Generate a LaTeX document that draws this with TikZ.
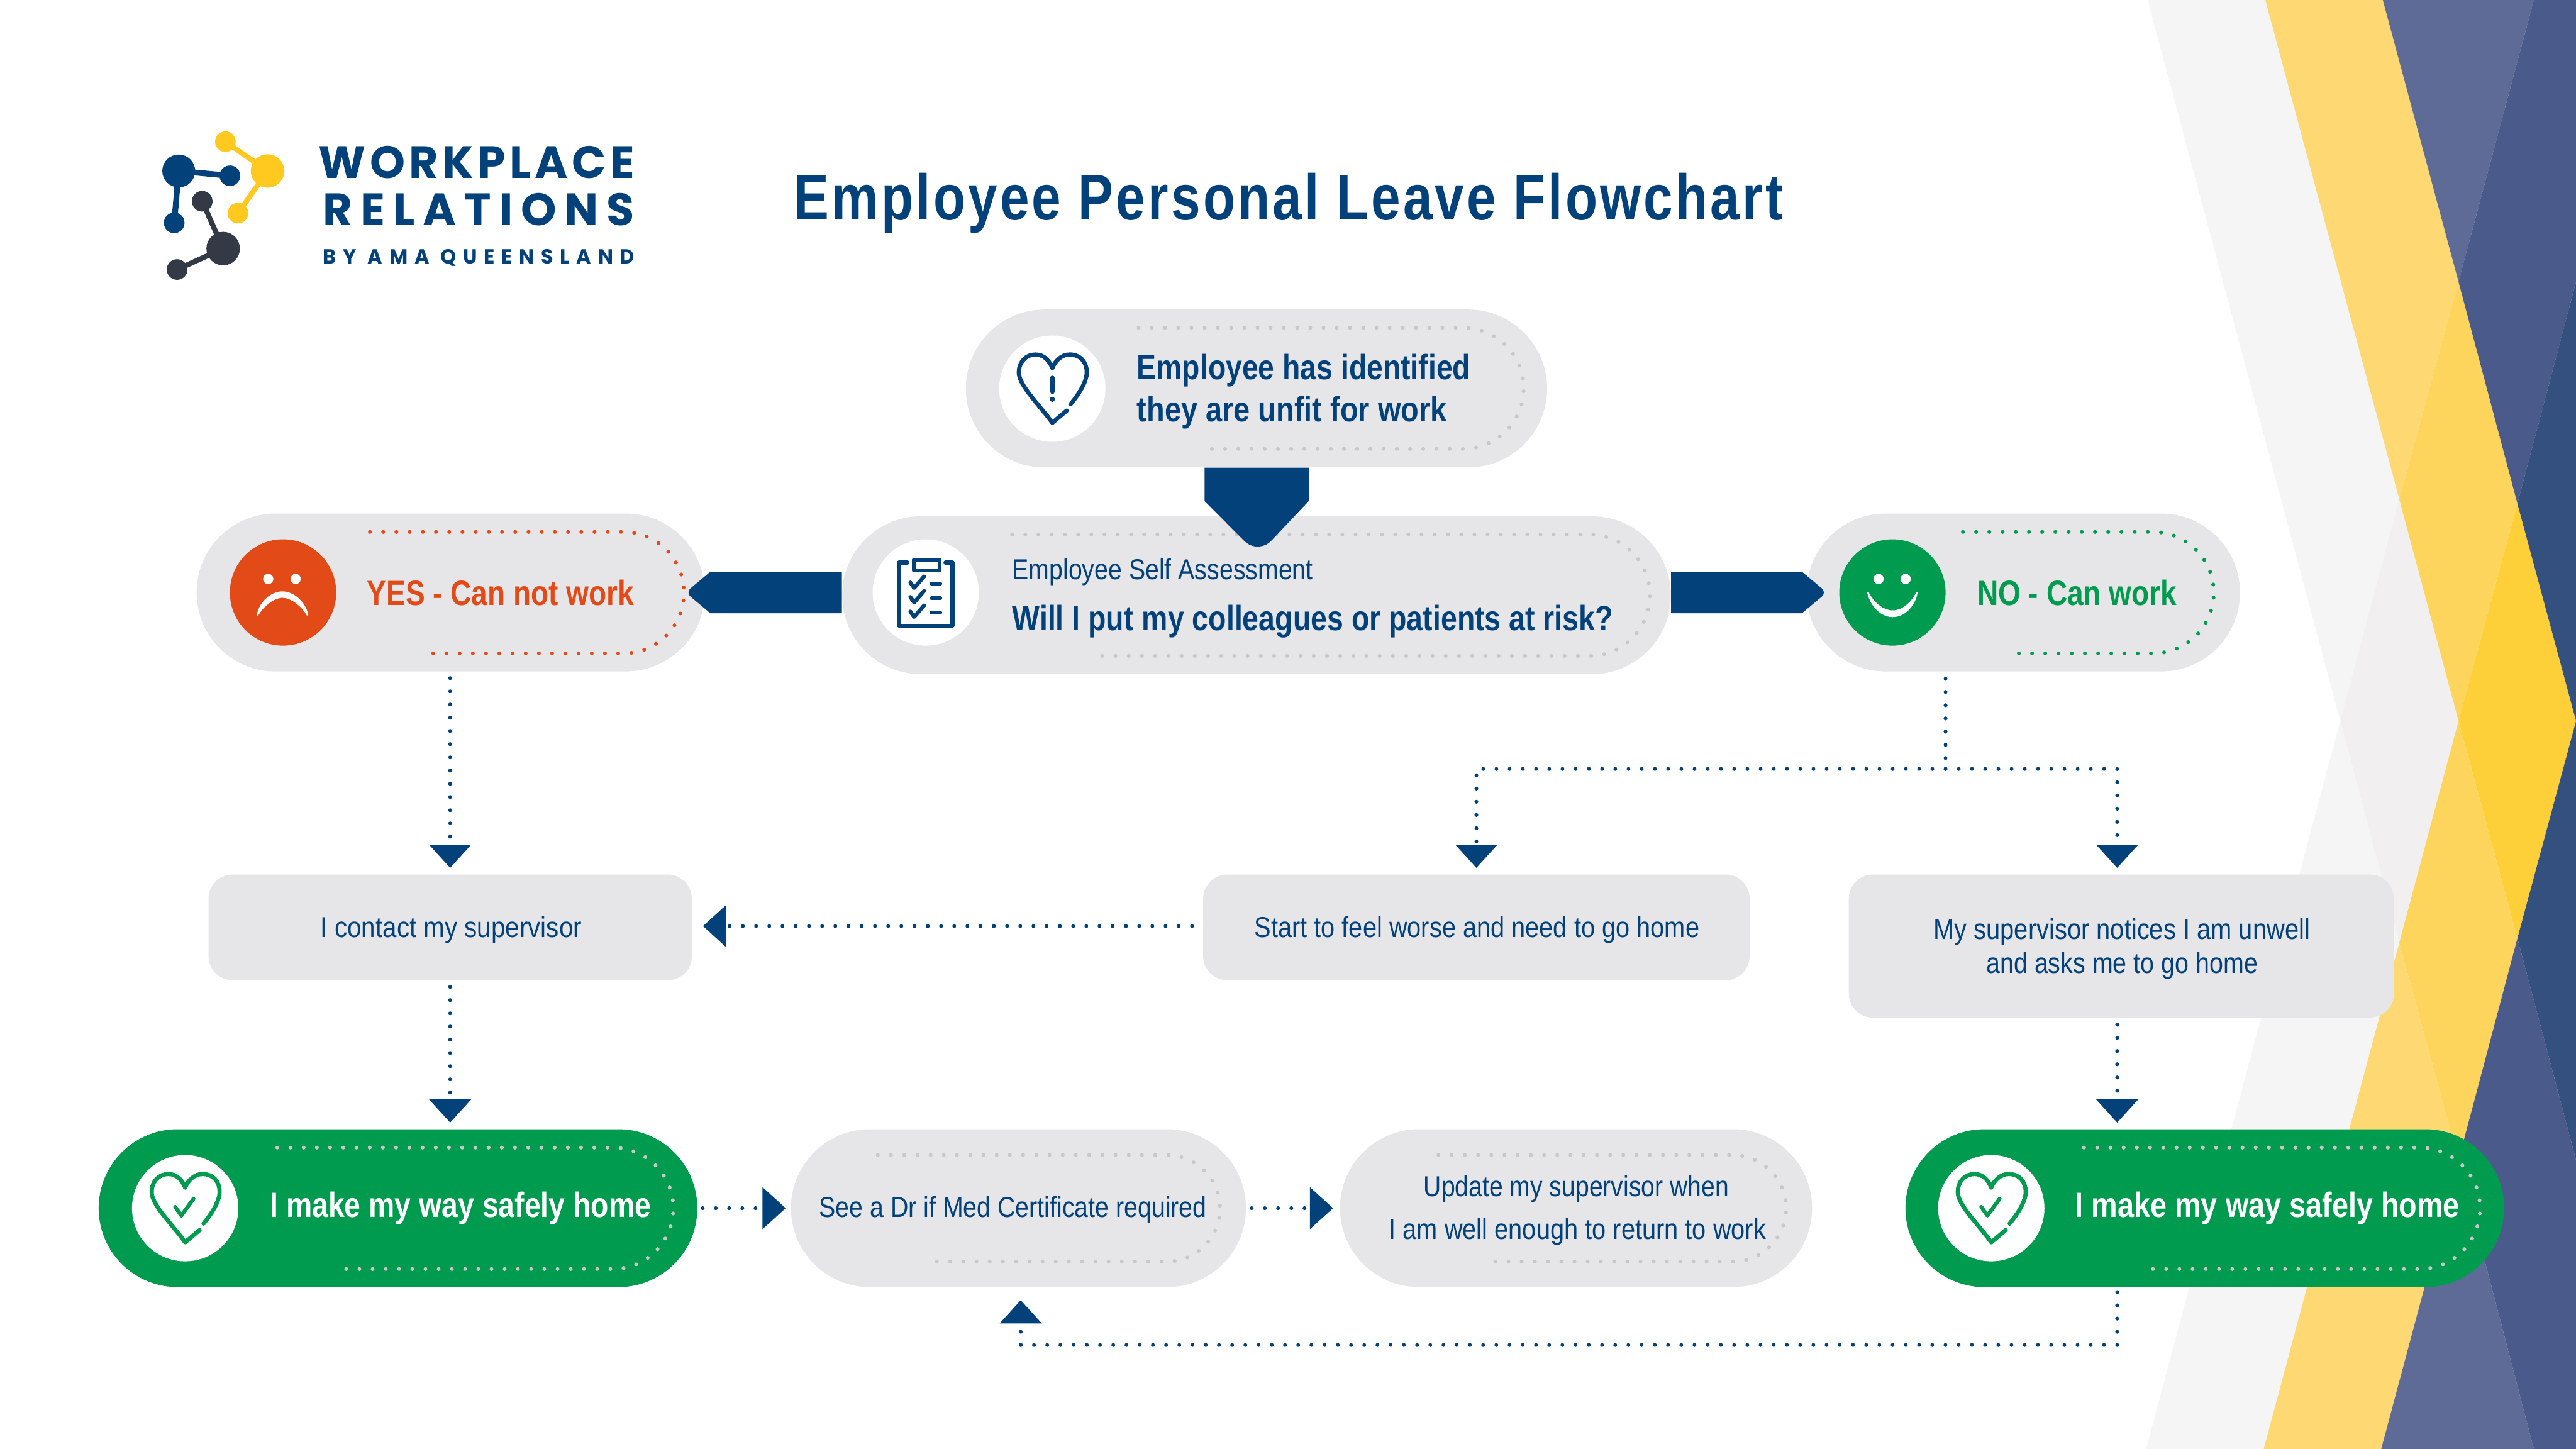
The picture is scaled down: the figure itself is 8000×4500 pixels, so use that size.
\documentclass[tikz,border=0pt]{standalone}
\usepackage{graphicx}
\usepackage{fontspec}
\usetikzlibrary{arrows.meta,calc}
\newfontfamily\rcf{Liberation Sans}
\newfontfamily\logof{Poppins}
\newdimen\pxu \pxu=0.01cm
\newcommand\fitw[2]{\resizebox{#1\pxu}{\height}{#2}}
\definecolor{navy}{HTML}{03417B}
\definecolor{boxgrey}{HTML}{E6E6E8}
\definecolor{dotgrey}{HTML}{C8C8CA}
\definecolor{okgreen}{HTML}{009B4E}
\definecolor{alert}{HTML}{E24A18}
\definecolor{logoyel}{HTML}{FFC91F}
\definecolor{logodark}{HTML}{333A45}
\definecolor{chA}{HTML}{F5F5F5}
\definecolor{chB}{HTML}{F1EFEF}
\definecolor{yeA}{HTML}{FDD873}
\definecolor{yeB}{HTML}{FDD55C}
\definecolor{yeC}{HTML}{FDD03A}
\definecolor{blA}{HTML}{5D6B96}
\definecolor{blB}{HTML}{4A5B8B}
\definecolor{blC}{HTML}{33507F}
\pgfdeclarelayer{chev}\pgfdeclarelayer{low}\pgfdeclarelayer{mid}\pgfdeclarelayer{front}
\pgfsetlayers{chev,low,mid,main,front}
\tikzset{
  pill/.style={rectangle,fill=boxgrey,inner sep=0,rounded corners=2.45cm,minimum height=4.9cm},
  softbox/.style={rectangle,fill=boxgrey,inner sep=0,rounded corners=.75cm},
  disc/.style={circle,fill=white,inner sep=0,minimum size=3.3cm},
  lbl/.style={inner sep=0,anchor=base west},
  boldtxt/.style={lbl,text=navy,font=\rcf\bfseries\fontsize{31}{31}\selectfont},
  plaintxt/.style={lbl,text=navy,font=\rcf\fontsize{25.5}{25.5}\selectfont},
  dotline/.style={line width=.12cm,line cap=round,dash pattern=on 0pt off .41cm},
  conn/.style={dotline,navy,-{Triangle[length=.72cm,width=1.28cm]}},
  connplain/.style={dotline,navy},
}
\newcommand\heartline[3]{%
  \begin{scope}[shift={(#1,#2)},draw=#3,line cap=round,line join=round,line width=.13cm]
    \draw (45,68) -- (0,106) .. controls (-40,50) and (-104,-10) .. (-104,-50)
      .. controls (-104,-85) and (-80,-106) .. (-52,-106)
      .. controls (-25,-106) and (-8,-85) .. (0,-64)
      .. controls (8,-85) and (28,-106) .. (54,-106)
      .. controls (85,-106) and (107,-85) .. (107,-50)
      .. controls (107,-20) and (80,20) .. (57,48);
  \end{scope}}
\newcommand\tickmark[2]{%
  \draw[okgreen,line width=.12cm,line cap=round,line join=round,shift={(#1,#2)}] (-31,-4) -- (-12,23) -- (26,-29);}
\begin{document}
\begin{tikzpicture}[x=0.01cm,y=-0.01cm]
\useasboundingbox (0,0) rectangle (8000,4500);
\begin{pgfonlayer}{chev}
\fill[white] (0,0) rectangle (8000,4500);
\fill[chA] (6670,0)--(7035,0)--(7451,1550)--(7268,2239)--cycle;
\fill[chB] (7268,2239)--(7451,1550)--(7635,2239)--(7451,2928)--cycle;
\fill[chA] (7268,2239)--(7451,2928)--(7030,4500)--(6665,4500)--cycle;
\fill[yeA] (7035,0)--(7400,0)--(7635,875)--(7451,1550)--cycle;
\fill[yeB] (7451,1550)--(7635,875)--(7818,1564)--(7635,2239)--cycle;
\fill[yeC] (7635,2239)--(7818,1564)--(8000,2239)--(7818,2914)--cycle;
\fill[yeB] (7451,2928)--(7635,2239)--(7818,2914)--(7635,3603)--cycle;
\fill[yeA] (7451,2928)--(7635,3603)--(7395,4500)--(7030,4500)--cycle;
\fill[blA] (7400,0)--(7869,0)--(7635,875)--cycle;
\fill[blB] (7869,0)--(8000,0)--(8000,875)--(7818,1564)--(7635,875)--cycle;
\fill[blC] (8000,875)--(8000,2239)--(7818,1564)--cycle;
\fill[blC] (8000,2239)--(8000,3603)--(7818,2914)--cycle;
\fill[blB] (7818,2914)--(8000,3603)--(8000,4500)--(7869,4500)--(7635,3603)--cycle;
\fill[blA] (7395,4500)--(7869,4500)--(7635,3603)--cycle;
\end{pgfonlayer}

% logo
\draw[navy,line width=.18cm] (555,531) -- (714,546) (555,531) -- (541,692);
\fill[navy] (555,531) circle[radius=51] (714,546) circle[radius=32] (541,692) circle[radius=32];
\draw[logoyel,line width=.16cm] (700,440) -- (831,531) -- (739,662);
\fill[logoyel] (700,440) circle[radius=32] (831,531) circle[radius=52] (739,662) circle[radius=32];
\draw[logodark,line width=.16cm] (628,625) -- (693,772) -- (550,837);
\fill[logodark] (628,625) circle[radius=32] (693,772) circle[radius=52] (550,837) circle[radius=32];
\node[lbl,text=navy] (logoA) at (989,554) {\fitw{981}{\logof\bfseries\fontsize{40}{40}\selectfont\addfontfeature{LetterSpace=9}WORKPLACE}};
\node[lbl,text=navy] (logoB) at (1003,700) {\fitw{967}{\logof\bfseries\fontsize{40}{40}\selectfont\addfontfeature{LetterSpace=18}RELATIONS}};
\node[lbl,text=navy] (logoC) at (1003,820) {\fitw{967}{\logof\bfseries\fontsize{18}{18}\selectfont\addfontfeature{LetterSpace=34}BY AMA QUEENSLAND}};

% title
\node[lbl,text=navy,font=\rcf\bfseries\fontsize{57}{57}\selectfont] (title) at (2466,683) {\fitw{3071}{\addfontfeature{LetterSpace=5}Employee Personal Leave Flowchart}};

% boxes
\begin{pgfonlayer}{low}
\node[pill,minimum width=15.77cm] (yes) at (1399.5,1840) {};
\node[pill,minimum width=13.45cm] (no) at (6283.5,1840) {};
\end{pgfonlayer}
\node[pill,minimum width=18.04cm] (top) at (3902,1206.5) {};
\node[pill,minimum width=25.72cm] (assess) at (3902,1848.5) {};
\node[softbox,minimum width=15cm,minimum height=3.28cm] (contact) at (1398,2880) {};
\node[softbox,minimum width=16.96cm,minimum height=3.28cm] (start) at (4585,2880) {};
\node[softbox,minimum width=16.92cm,minimum height=4.44cm] (super) at (6588,2938) {};
\node[pill,minimum width=18.58cm,fill=okgreen] (homeL) at (1236,3752) {};
\node[pill,minimum width=14.12cm] (see) at (3163,3752) {};
\node[pill,minimum width=14.65cm] (update) at (4894.5,3752) {};
\node[pill,minimum width=18.58cm,fill=okgreen] (homeR) at (6847,3752) {};

% inner dotted outlines
\draw[dotline,dotgrey,rounded corners=1.88cm] (3536,1018) -- (4732,1018) -- (4732,1394) -- (3741,1394);
\draw[dotline,dotgrey,rounded corners=1.88cm] (3143,1660) -- (5124,1660) -- (5124,2037) -- (3402,2037);
\draw[dotline,alert,rounded corners=1.88cm] (1149,1652) -- (2124,1652) -- (2124,2029) -- (1345,2029);
\draw[dotline,okgreen,rounded corners=1.88cm] (6096,1652) -- (6875,1652) -- (6875,2029) -- (6230,2029);
\draw[dotline,dotgrey,rounded corners=1.88cm] (861,3564) -- (2091,3564) -- (2091,3941) -- (1059,3941);
\draw[dotline,dotgrey,rounded corners=1.88cm] (6472,3564) -- (7702,3564) -- (7702,3941) -- (6670,3941);
\draw[dotline,dotgrey,rounded corners=1.66cm] (2726,3587) -- (3789,3587) -- (3789,3918) -- (2900,3918);
\draw[dotline,dotgrey,rounded corners=1.66cm] (4467,3587) -- (5547,3587) -- (5547,3918) -- (4639,3918);

% discs
\node[disc] (d1) at (3268,1207) {};
\node[disc] (d2) at (2875,1840) {};
\node[disc,fill=alert] (d3) at (879,1840) {};
\node[disc,fill=okgreen] (d4) at (5877,1840) {};
\node[disc] (d5) at (575,3752) {};
\node[disc] (d6) at (6184,3752) {};

% heart with exclamation
\heartline{3268}{1207}{navy}
\draw[navy,line width=.13cm,line cap=round] (3268,1173) -- (3268,1217);
\fill[navy] (3268,1240) circle[radius=8];

% hearts with tick
\heartline{575}{3752}{okgreen}
\heartline{6184}{3752}{okgreen}
\tickmark{575}{3752}
\tickmark{6184}{3752}

% clipboard
\begin{scope}[navy,line width=.12cm,line cap=round,line join=round]
\draw (2818,1747) -- (2792,1747) -- (2792,1943) -- (2958,1943) -- (2958,1747) -- (2936,1747);
\draw (2838,1738) rectangle (2918,1772);
\foreach \dy in {0,45,90}{
  \draw[shift={(0,\dy)}] (2827,1809) -- (2839,1826) -- (2870,1790);
  \draw[shift={(0,\dy)}] (2893,1813) -- (2920,1813);
}
\end{scope}

% sad face
\fill[white] (833,1798) circle[radius=16] (918,1798) circle[radius=16];
\fill[white,draw=white,line width=.05cm,line join=round]
  (800,1910) .. controls (808,1868) and (845,1839) .. (877,1839)
  .. controls (909,1839) and (946,1868) .. (955,1910)
  .. controls (945,1890) and (910,1854) .. (877,1854)
  .. controls (845,1854) and (810,1890) .. (800,1910) -- cycle;

% happy face
\fill[white] (5834,1798) circle[radius=16] (5918,1798) circle[radius=16];
\fill[white,draw=white,line width=.05cm,line join=round]
  (5801,1840) .. controls (5812,1885) and (5845,1914) .. (5878,1914)
  .. controls (5911,1914) and (5944,1885) .. (5953,1840)
  .. controls (5940,1870) and (5910,1898) .. (5878,1898)
  .. controls (5846,1898) and (5815,1870) .. (5801,1840) -- cycle;

% text
\node[boldtxt] (t1a) at (3530,1179) {\fitw{1036}{Employee has identified}};
\node[boldtxt] (t1b) at (3530,1310) {\fitw{963}{they are unfit for work}};
\node[plaintxt] (t2a) at (3143,1799) {\fitw{934}{Employee Self Assessment}};
\node[boldtxt] (t2b) at (3143,1958) {\fitw{1866}{Will I put my colleagues or patients at risk?}};
\node[boldtxt,text=alert] (t3) at (1139,1880) {\fitw{830}{YES - Can not work}};
\node[boldtxt,text=okgreen] (t4) at (6140,1880) {\fitw{620}{NO - Can work}};
\node[plaintxt] (t5) at (995,2911) {\fitw{811}{I contact my supervisor}};
\node[plaintxt] (t6) at (3895,2911) {\fitw{1382}{Start to feel worse and need to go home}};
\node[plaintxt] (t7a) at (6004,2917) {\fitw{1169}{My supervisor notices I am unwell}};
\node[plaintxt] (t7b) at (6168,3023) {\fitw{843}{and asks me to go home}};
\node[boldtxt,text=white] (t8) at (838,3780) {\fitw{1183}{I make my way safely home}};
\node[boldtxt,text=white] (t9) at (6444,3780) {\fitw{1194}{I make my way safely home}};
\node[plaintxt] (t10) at (2543,3781) {\fitw{1204}{See a Dr if Med Certificate required}};
\node[plaintxt] (t11a) at (4421,3716) {\fitw{947}{Update my supervisor when}};
\node[plaintxt] (t11b) at (4313,3848) {\fitw{1171}{I am well enough to return to work}};

% heavy arrows
\begin{pgfonlayer}{mid}
\fill[navy] ($(assess.west |- yes.east)+(0,-64.5)$) -- ($(yes.east)+(17,-64.5)$)
  [rounded corners=.2cm] -- ($(yes.east)+(-60,0)$) [sharp corners] -- ($(yes.east)+(17,64.5)$)
  -- ($(assess.west |- yes.east)+(0,64.5)$) -- cycle;
\fill[navy] ($(assess.east |- no.west)+(0,-64.5)$) -- ($(no.west)+(-14,-64.5)$)
  [rounded corners=.2cm] -- ($(no.west)+(63,0)$) [sharp corners] -- ($(no.west)+(-14,64.5)$)
  -- ($(assess.east |- no.west)+(0,64.5)$) -- cycle;
\end{pgfonlayer}
\begin{pgfonlayer}{front}
\fill[navy] ($(top.south)+(-161,0)$) -- ($(top.south)+(-161,104)$)
  [rounded corners=.6cm] -- ($(assess.north)+(5,120)$) [sharp corners] -- ($(top.south)+(162,104)$)
  -- ($(top.south)+(162,0)$) -- cycle;
\end{pgfonlayer}

% dotted connectors
\draw[conn] ([yshift=-.2cm]yes.south -| contact.north) -- ([yshift=.2cm]contact.north);
\draw[conn] ([yshift=-.2cm]contact.south) -- ([yshift=.2cm]homeL.north -| contact.south);
\draw[conn] ([xshift=-.34cm,yshift=.04cm]start.west) -- ([xshift=.34cm,yshift=.04cm]contact.east);
\coordinate (split) at (6042,2388);
\coordinate (superx) at (6575,3182);
\coordinate (returnturn) at (3170,4177);
\draw[connplain] (split |- 6042,2108) -- (split);
\draw[conn] (split) -| ([yshift=.2cm]start.north);
\draw[conn] (split) -| ([xshift=-.13cm,yshift=.2cm]super.north);
\draw[conn] (superx) -- ([yshift=.2cm]homeR.north -| superx);
\draw[connplain] ([yshift=-.15cm]homeR.south -| superx) |- (returnturn);
\draw[conn] (returnturn) -- ([xshift=.07cm,yshift=-.4cm]see.south);
\draw[conn] ([xshift=.16cm]homeL.east) -- ([xshift=-.16cm]see.west);
\draw[conn] ([xshift=.17cm]see.east) -- ([xshift=-.21cm]update.west);
\end{tikzpicture}
\end{document}
